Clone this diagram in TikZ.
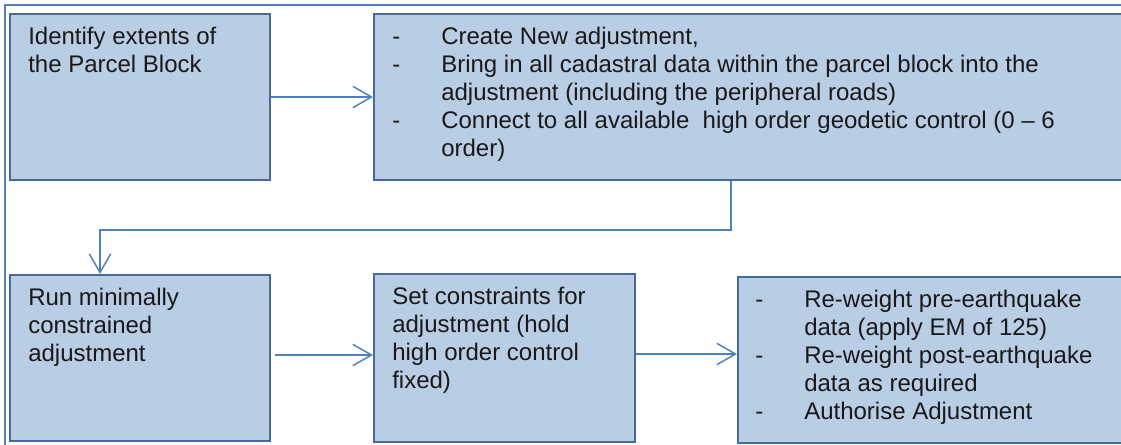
\documentclass[tikz,border=0pt]{standalone}
\usepackage{fontspec}
\setmainfont{Liberation Sans}
\usetikzlibrary{arrows.meta}

\def\mypx{0.75pt}
\def\mydash{\makebox[36.75pt][l]{-}}
\def\myindent{\hspace*{36.75pt}}

\definecolor{boxfill}{HTML}{B9CDE5}
\definecolor{boxline}{HTML}{476A9A}
\definecolor{flowline}{HTML}{4F81BD}

\begin{document}
\begin{tikzpicture}[x=\mypx, y=-\mypx,
    stepbox/.style={draw=boxline, fill=boxfill, line width=1.5pt,
      anchor=north west, inner sep=0pt},
    steptext/.style={anchor=north west, inner sep=0pt, align=left,
      text=black!90, font=\fontsize{18}{21}\selectfont},
    flow/.style={draw=flowline, line width=1.1pt,
      -{Straight Barb[length=14pt, width=16pt]}}]
    \clip (0,0) rectangle (1121,445);
    % outer frame
    \draw[flowline, line width=1.5pt] (5,460) -- (5,5) -- (1140,5);

    % boxes
    \foreach \name/\x/\y/\w/\h in {extents/9/13/260/166,
        setup/373/13/770/166, runmin/9/274/260/166,
        constr/373/273/261/168, reweight/737/276/420/166} {
      \node[stepbox, minimum width=\w*\mypx, minimum height=\h*\mypx]
        (\name) at (\x,\y) {};
    }

    % texts
    \node[steptext] (extentstxt) at ([xshift=19*\mypx, yshift=-13.5*\mypx]extents.north west)
      {Identify extents of\\the Parcel Block};
    \node[steptext] (setuptxt) at ([xshift=19*\mypx, yshift=-13.5*\mypx]setup.north west)
      {\mydash Create New adjustment,\\
       \mydash Bring in all cadastral data within the parcel block into the\\
       \myindent adjustment (including the peripheral roads)\\
       \mydash Connect to all available\ \ high order geodetic control (0 -- 6\\
       \myindent order)};
    \node[steptext] (runmintxt) at ([xshift=19*\mypx, yshift=-13.5*\mypx]runmin.north west)
      {Run minimally\\constrained\\adjustment};
    \node[steptext] (constrtxt) at ([xshift=19*\mypx, yshift=-13.5*\mypx]constr.north west)
      {Set constraints for\\adjustment (hold\\high order control\\fixed)};
    \node[steptext] (reweighttxt) at ([xshift=18*\mypx, yshift=-13.5*\mypx]reweight.north west)
      {\mydash Re-weight pre-earthquake\\
       \myindent data (apply EM of 125)\\
       \mydash Re-weight post-earthquake\\
       \myindent data as required\\
       \mydash Authorise Adjustment};

    % connectors
    \coordinate (elbowR) at (731,230);
    \coordinate (elbowL) at (100,230);
    \draw[flow] (extents.east) -- (extents.east -| setup.west);
    \draw[flow] (elbowR |- setup.south) -- (elbowR) -- (elbowL) -- (elbowL |- runmin.north);
    \draw[flow] ([xshift=4*\mypx, yshift=3*\mypx]runmin.east)
      -- ([yshift=3*\mypx]runmin.east -| constr.west);
    \draw[flow] ([yshift=4*\mypx]constr.east) -- ([yshift=4*\mypx]constr.east -| reweight.west);
\end{tikzpicture}
\end{document}
